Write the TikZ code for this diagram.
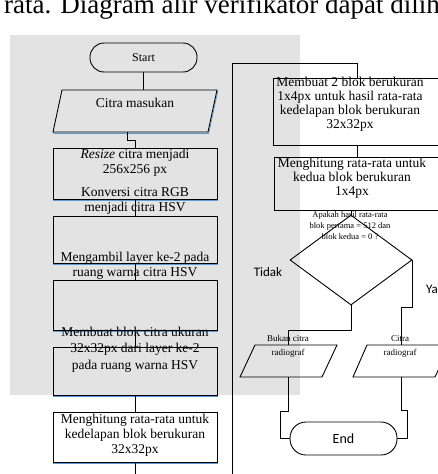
\documentclass[tikz,border=0pt]{standalone}
\usepackage{fontspec}
\setmainfont{Liberation Serif}
\newfontfamily\calibrilike{Carlito}
\usetikzlibrary{shapes.geometric}
\definecolor{scangray}{RGB}{227,227,227}
\definecolor{blueish}{RGB}{91,155,213}
\tikzset{
  procbox/.style={draw, line width=0.9pt, fill=scangray, inner sep=0pt},
  whitebox/.style={draw, line width=0.9pt, fill=white, inner sep=0pt},
  rbox/.style={draw, line width=0.9pt, inner sep=0pt},
  bluedup/.style={draw=blueish, line width=0.7pt},
  conn/.style={line width=0.8pt},
  lefttext/.style={align=center, font=\fontsize{13.5}{15}\selectfont, inner sep=0pt},
  righttext/.style={align=center, font=\fontsize{13.5}{14}\selectfont, inner sep=0pt},
  smalltext/.style={align=center, font=\fontsize{8.5}{11}\selectfont, inner sep=0pt},
  iotext/.style={align=center, font=\fontsize{9}{14}\selectfont, inner sep=0pt},
  sanslabel/.style={font=\calibrilike\fontsize{13}{15}\selectfont, inner sep=0pt},
  terminal/.style={draw, line width=0.9pt, rounded corners=14pt, inner sep=0pt}
}
\begin{document}
\begin{tikzpicture}[x=1pt,y=-1pt]
\useasboundingbox (0,0) rectangle (437,474);
% scan background shading
\fill[scangray] (10,35) rectangle (300,395);
% top cut-off line of body text
\node[anchor=base west, inner sep=0pt, font=\fontsize{27}{30}\selectfont] (toptext) at (4,13) {rata. Diagram alir verifikator dapat dilihat};

% ---------------- left column ----------------
\node[terminal, minimum width=107pt, minimum height=29pt, font=\fontsize{12}{14}\selectfont] (start) at (143.5,57.5) {Start};

% input parallelogram
\draw[bluedup] (62.7,91.5) -- (217.7,91.5) -- (208.7,133.5) -- (53.7,133.5) -- cycle;
\draw[line width=0.9pt, fill=scangray] (62,90) -- (217,90) -- (208,132) -- (53,132) -- cycle;
\coordinate (inN) at (143.5,90);
\coordinate (inS) at (127,132);
\node[lefttext] (intext) at (135,103) {Citra masukan};

% process boxes
\foreach \nm/\cy/\h in {b1/173.5/51, b2/239.5/47, b3/305/50, b4/371/48}{
  \draw[bluedup] ({53.7},{\cy-\h/2+1.5}) rectangle ({217.7},{\cy+\h/2+1.5});
  \node[procbox, minimum width=164pt, minimum height=\h pt] (\nm) at (135,\cy) {};
}
\draw[bluedup] (53.7,413.5) rectangle (217.7,463.5);
\node[whitebox, minimum width=164pt, minimum height=50pt] (b5) at (135,437) {};
\coordinate (leftEnd) at (135,474);

\node[lefttext] (t1a) at (135,163) {\textit{Resize} citra menjadi\\256x256 px};
\node[lefttext] (t1b) at (135,200.5) {Konversi citra RGB\\menjadi citra HSV};
\node[lefttext] (t2) at (135,265.5) {Mengambil layer ke-2 pada\\ruang warna citra HSV};
\node[lefttext, font=\fontsize{13.5}{16.5}\selectfont] (t3) at (135,349.5) {Membuat blok citra ukuran\\32x32px dari layer ke-2\\pada ruang warna HSV};
\node[lefttext] (t4) at (135,435) {Menghitung rata-rata untuk\\kedelapan blok berukuran\\32x32px};

% left connectors
\draw[conn] (start.south) -- (inN);
\coordinate (j1) at (127,140);
\draw[conn] (inS) -- (j1) -| (b1.north);
\draw[conn] (b1) -- (b2);
\draw[conn] (b2) -- (b3);
\draw[conn] (b3) -- (b4);
\draw[conn] (b4) -- (b5);
\draw[conn] (b5.south) -- (leftEnd);

% ---------------- right column ----------------
\node[rbox, minimum width=168pt, minimum height=67pt] (r1) at (357,111.5) {};
\node[rbox, minimum width=166pt, minimum height=53pt] (r2) at (357,183.5) {};
\node[righttext] (rt1) at (350,104) {Membuat 2 blok berukuran\\1x4px untuk hasil rata-rata\\kedelapan blok berukuran\\32x32px};
\node[righttext] (rt2) at (352,178) {Menghitung rata-rata untuk\\kedua blok berukuran\\1x4px};

\coordinate (loopB) at (232,474);
\coordinate (loopTL) at (232,63);
\draw[conn] (loopB) -- (loopTL) -| (r1.north);
\draw[conn] (r1) -- (r2);

\node[diamond, draw, line width=0.9pt, minimum width=122pt, minimum height=90pt, inner sep=0pt] (dec) at (351,260) {};
\draw[conn] (r2.south -| dec.north) -- (dec.north);
\node[smalltext] (dt) at (350,226) {Apakah hasil rata-rata\\blok pertama = 512 dan\\blok kedua = 0 ?};

\node[sanslabel] (tidak) at (268,272) {Tidak};
\node[sanslabel, anchor=west] (ya) at (426,289) {Ya};

% output parallelograms
\draw[line width=0.9pt] (255,345) -- (337,345) -- (322,377) -- (240,377) -- cycle;
\draw[line width=0.9pt] (367,345) -- (450,345) -- (435,377) -- (353,377) -- cycle;
\coordinate (pLn) at (288,345);
\coordinate (pLs) at (288,377);
\coordinate (pRn) at (401,345);
\coordinate (pRs) at (401,377);
\node[iotext] (oL) at (288,346) {Bukan citra\\radiograf};
\node[iotext] (oR) at (400,346) {Citra\\radiograf};

\node[terminal, minimum width=107pt, minimum height=33pt, rounded corners=16pt, font=\calibrilike\fontsize{14}{16}\selectfont] (endn) at (343.5,438.5) {End};

\draw[conn] (dec.south) -- ++(0,25) -| (pLn);
\draw[conn] (dec.east) -- ++(0,47) -| (pRn);
\draw[conn] (pLs) -- ++(0,34) -- ++(-8,0) |- (endn.west);
\draw[conn] (pRs) -- ++(0,33) -- ++(6,0) |- (endn.east);
\end{tikzpicture}
\end{document}
